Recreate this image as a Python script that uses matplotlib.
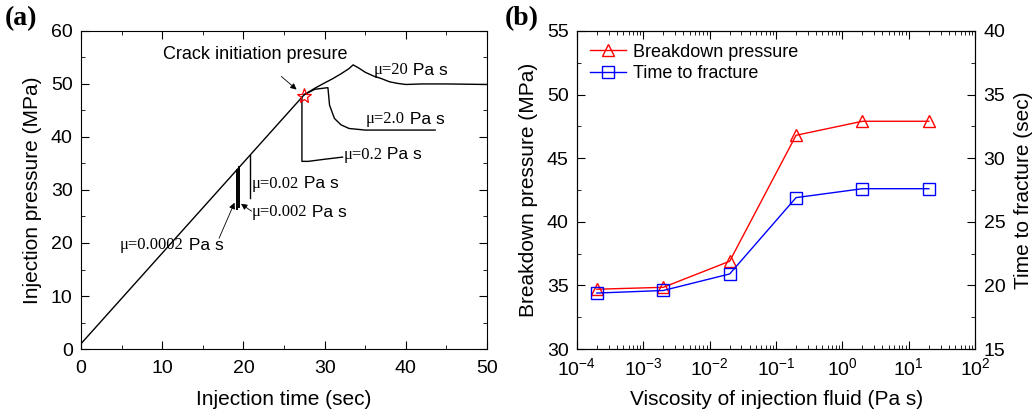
import matplotlib
matplotlib.use("Agg")
import matplotlib.pyplot as plt
from matplotlib.ticker import MultipleLocator, LogLocator, NullFormatter
import numpy as np

plt.rcParams['font.family'] = ['Liberation Sans', 'DejaVu Sans']

# (a) pressure history for different viscosities
ramp_t = [0, 27.5]
ramp_p = [1.0, 48.0]
t_0002 = [19.2, 19.2]
p_0002 = [33.8, 26.5]
t_002 = [19.5, 19.5]
p_002 = [34.3, 26.8]
t_02 = [20.8, 20.8]
p_02 = [36.6, 28.5]
t_2 = [27.2, 27.2, 28.0, 30.0, 32.2]
p_2 = [47.5, 35.4, 35.4, 35.8, 36.2]
t_20b = [27.5, 28.8, 30.4, 30.6, 31.2, 32.0, 33.0, 35.0, 38.0, 43.6]
p_20b = [48.0, 49.0, 49.3, 46.0, 43.5, 42.3, 41.6, 41.3, 41.3, 41.3]
t_200 = [27.5, 28.8, 30.0, 31.0, 32.0, 33.0, 33.5, 34.2, 35.0, 36.0, 37.0, 38.0, 39.0, 40.0, 42.0, 45.0, 50.0]
p_200 = [48.0, 49.2, 50.2, 51.0, 51.9, 52.9, 53.6, 53.0, 52.2, 51.5, 51.0, 50.4, 50.1, 49.9, 50.0, 50.0, 49.9]
crack_t, crack_p = 27.5, 47.8

# (b) breakdown pressure and time to fracture vs viscosity
visc = [2e-4, 2e-3, 2e-2, 2e-1, 2, 20]
breakdown = [34.7, 34.85, 36.9, 46.8, 47.9, 47.9]
t_frac = [19.4, 19.6, 20.9, 26.9, 27.6, 27.6]

fig = plt.figure(figsize=(10.32, 4.18), dpi=100)
ax1 = fig.add_axes([0.0785, 0.165, 0.3935, 0.761])
ax2 = fig.add_axes([0.559, 0.165, 0.386, 0.761])

fs_tick = 14
fs_lab = 15
mu_fs = 12

arrow = dict(arrowstyle='-|>', color='k', lw=0.6, mutation_scale=9, shrinkA=0, shrinkB=0)

def mu_label(ax, x, y, val):
    # serif "mu=value" followed by sans " Pa s"
    t = ax.text(x, y, '\u03bc=' + val, fontsize=mu_fs, va='center', family='Liberation Serif')
    ax.annotate(' Pa s', xy=(1, 0.5), xycoords=t, fontsize=mu_fs + 0.5, va='center', ha='left')

# ---- panel a
lw = 1.0
ax1.plot(ramp_t, ramp_p, 'k-', lw=lw)
ax1.plot(t_0002, p_0002, 'k-', lw=1.4)
ax1.plot(t_002, p_002, 'k-', lw=1.4)
ax1.plot(t_02, p_02, 'k-', lw=lw)
ax1.plot(t_2, p_2, 'k-', lw=lw)
ax1.plot(t_20b, p_20b, 'k-', lw=lw)
ax1.plot(t_200, p_200, 'k-', lw=lw)
ax1.plot(crack_t, crack_p, marker='*', ms=11, mfc='none', mec='red', mew=0.9, zorder=5)

ax1.annotate('Crack initiation presure', xy=(26.8, 48.6), xytext=(21.5, 55.6),
             ha='center', va='center', fontsize=13,
             arrowprops=dict(arrowstyle='-|>', color='k', lw=0.6, mutation_scale=9, shrinkA=12))

mu_label(ax1, 36.0, 52.6, '20')
mu_label(ax1, 35.1, 43.3, '2.0')
mu_label(ax1, 32.3, 36.6, '0.2')
mu_label(ax1, 21.0, 31.2, '0.02')
mu_label(ax1, 21.0, 25.8, '0.002')
mu_label(ax1, 4.8, 19.6, '0.0002')
ax1.annotate('', xy=(19.7, 27.4), xytext=(21.0, 26.0), arrowprops=arrow)
ax1.annotate('', xy=(18.9, 27.6), xytext=(17.0, 20.9), arrowprops=arrow)

ax1.set_xlim(0, 50)
ax1.set_ylim(0, 60)
ax1.xaxis.set_major_locator(MultipleLocator(10))
ax1.xaxis.set_minor_locator(MultipleLocator(5))
ax1.yaxis.set_major_locator(MultipleLocator(10))
ax1.yaxis.set_minor_locator(MultipleLocator(5))
ax1.tick_params(which='both', direction='in', top=True, right=True, labelsize=fs_tick)
ax1.tick_params(which='major', length=6)
ax1.tick_params(which='minor', length=3)
ax1.tick_params(axis='x', pad=8)
ax1.tick_params(axis='y', pad=6)
ax1.set_xlabel('Injection time (sec)', fontsize=fs_lab, labelpad=9)
ax1.set_ylabel('Injection pressure (MPa)', fontsize=fs_lab, labelpad=6)
ax1.text(-0.187, 1.04, '(a)', transform=ax1.transAxes, fontsize=20, fontweight='bold',
         family='Liberation Serif', va='center')

# ---- panel b
ax3 = ax2.twinx()
l1, = ax2.plot(visc, breakdown, '-', color='red', lw=1.0, marker='^', ms=9, mfc='none', mec='red',
               label='Breakdown pressure')
l2, = ax3.plot(visc, t_frac, '-', color='blue', lw=1.0, marker='s', ms=8, mfc='none', mec='blue',
               label='Time to fracture')
ax2.set_xscale('log')
ax2.set_xlim(1e-4, 1e2)
ax2.set_ylim(30, 55)
ax3.set_ylim(15, 40)
ax2.xaxis.set_major_locator(LogLocator(base=10, numticks=10))
ax2.xaxis.set_minor_locator(LogLocator(base=10, subs=np.arange(2, 10), numticks=20))
ax2.xaxis.set_minor_formatter(NullFormatter())
ax2.yaxis.set_major_locator(MultipleLocator(5))
ax2.yaxis.set_minor_locator(MultipleLocator(2.5))
ax3.yaxis.set_major_locator(MultipleLocator(5))
ax3.yaxis.set_minor_locator(MultipleLocator(2.5))
ax2.tick_params(which='both', direction='in', top=True, labelsize=fs_tick)
ax3.tick_params(which='both', direction='in', labelsize=fs_tick)
for a in (ax2, ax3):
    a.tick_params(which='major', length=6)
    a.tick_params(which='minor', length=3)
    a.tick_params(axis='y', pad=6)
ax2.tick_params(axis='x', pad=6)
ax2.set_xlabel('Viscosity of injection fluid (Pa s)', fontsize=fs_lab, labelpad=8)
ax2.set_ylabel('Breakdown pressure (MPa)', fontsize=fs_lab, labelpad=6)
ax3.set_ylabel('Time to fracture (sec)', fontsize=fs_lab, labelpad=6)
ax2.legend(handles=[l1, l2], loc='upper left', frameon=False, fontsize=13,
           handlelength=2.0, handletextpad=0.4, borderaxespad=0.3, labelspacing=0.25)
ax2.text(-0.18, 1.04, '(b)', transform=ax2.transAxes, fontsize=20, fontweight='bold',
         family='Liberation Serif', va='center')

fig.savefig('out.png', dpi=100)
